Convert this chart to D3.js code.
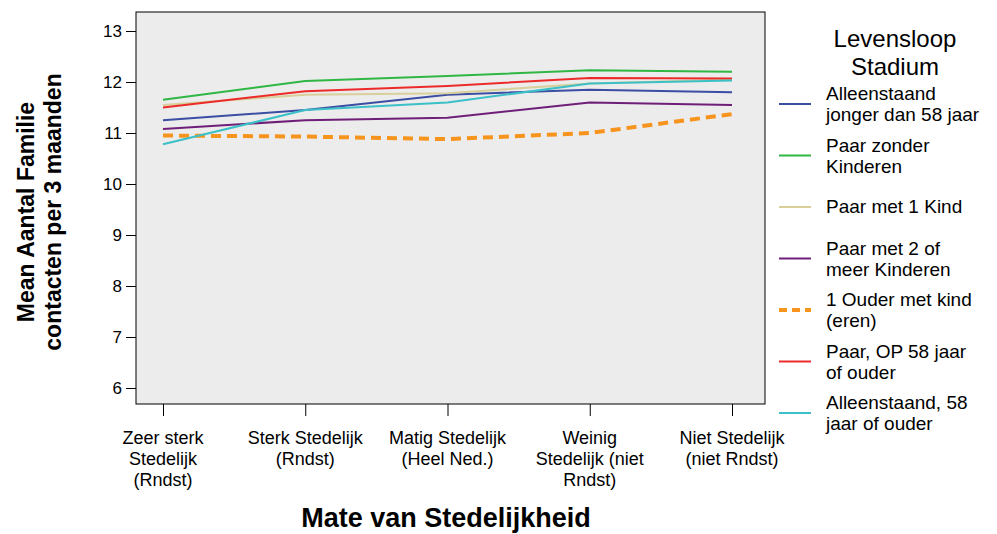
<!DOCTYPE html>
<html><head><meta charset="utf-8">
<script src="https://cdn.jsdelivr.net/npm/d3@7"></script>
<style>body{margin:0;background:#fff}text{font-family:"Liberation Sans",Arial,sans-serif}</style>
</head><body><svg id="c" width="997" height="534"></svg>
<script>
var categories = ['Zeer sterk|Stedelijk|(Rndst)','Sterk Stedelijk|(Rndst)','Matig Stedelijk|(Heel Ned.)','Weinig|Stedelijk (niet|Rndst)','Niet Stedelijk|(niet Rndst)']
var seriesNames = ['Alleenstaand|jonger dan 58 jaar','Paar zonder|Kinderen','Paar met 1 Kind','Paar met 2 of|meer Kinderen','1 Ouder met kind|(eren)','Paar, OP 58 jaar|of ouder','Alleenstaand, 58|jaar of ouder']
var seriesColors = ['#3b4ea3','#2fb644','#d8cf9b','#6f1f78','#f7941d','#ed2a2a','#3cc0c8']
var values = [
  [11.25,11.45,11.75,11.85,11.8],
  [11.65,12.02,12.12,12.23,12.2],
  [11.55,11.75,11.78,11.97,12.05],
  [11.08,11.25,11.3,11.6,11.55],
  [10.95,10.93,10.88,11.0,11.37],
  [11.5,11.82,11.92,12.08,12.07],
  [10.78,11.45,11.6,11.97,12.03]
]
var yTicks = [6,7,8,9,10,11,12,13]

var svg = d3.select('#c')
var L = 136, R = 765, T = 12, B = 404
var x = d3.scalePoint().domain(d3.range(categories.length)).range([163,732])
var y = d3.scaleLinear().domain([6,13]).range([388,31])

svg.append('rect').attr('x',L).attr('y',T).attr('width',R-L).attr('height',B-T)
  .attr('fill','#ececec').attr('stroke','#000').attr('stroke-width',1)

var ya = svg.append('g').attr('transform','translate('+L+',0)')
  .call(d3.axisLeft(y).tickValues(yTicks).tickFormat(d3.format('d')).tickSize(10).tickPadding(4))
ya.select('.domain').remove()
ya.selectAll('text').style('font-size','17px').attr('fill','#000')

var xa = svg.append('g').attr('transform','translate(0,'+B+')')
  .call(d3.axisBottom(x).tickSize(12).tickFormat(''))
xa.select('.domain').remove()
categories.forEach(function (c,i) {
  c.split('|').forEach(function (s,j) {
    svg.append('text').attr('x',x(i)).attr('y',444+j*21).attr('text-anchor','middle')
      .style('font-size','18px').text(s)
  })
})

var line = d3.line().x(function (d,i) { return x(i) }).y(function (d) { return y(d) })
values.forEach(function (v,k) {
  svg.append('path').attr('d',line(v)).attr('fill','none').attr('stroke',seriesColors[k])
    .attr('stroke-width',k==4?4:2).attr('stroke-dasharray',k==4?'10,6':null)
})

svg.append('text').attr('x',446).attr('y',527).attr('text-anchor','middle')
  .style('font-size','27px').attr('font-weight','bold').text('Mate van Stedelijkheid')
var yl = svg.append('text').attr('transform','translate(34,212) rotate(-90)').attr('text-anchor','middle')
  .style('font-size','23px').attr('font-weight','bold')
yl.append('tspan').attr('x',0).attr('dy',0).text('Mean Aantal Familie')
yl.append('tspan').attr('x',0).attr('dy',27).text('contacten per 3 maanden')

svg.append('text').attr('x',895).attr('y',47).attr('text-anchor','middle').style('font-size','24px').text('Levensloop')
svg.append('text').attr('x',895).attr('y',75).attr('text-anchor','middle').style('font-size','24px').text('Stadium')
seriesNames.forEach(function (n,k) {
  var cy = 104 + k*51.5
  svg.append('line').attr('x1',779).attr('x2',811).attr('y1',cy).attr('y2',cy)
    .attr('stroke',seriesColors[k]).attr('stroke-width',k==4?4:2).attr('stroke-dasharray',k==4?'8,5':null)
  var p = n.split('|')
  p.forEach(function (s,j) {
    svg.append('text').attr('x',826).attr('y',(p.length==1?cy+6:cy-4+j*21)).style('font-size','19px').text(s)
  })
})
</script></body></html>
